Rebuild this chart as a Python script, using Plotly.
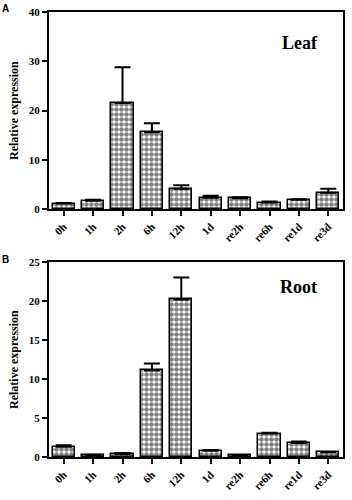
import plotly.graph_objects as go

categories = ["0h", "1h", "2h", "6h", "12h", "1d", "re2h", "re6h", "re1d", "re3d"]
leaf_values = [1.1, 1.7, 21.5, 15.6, 4.1, 2.3, 2.2, 1.3, 1.9, 3.3]
leaf_err_top = [1.2, 1.9, 28.8, 17.4, 4.8, 2.7, 2.4, 1.5, 2.0, 4.1]
root_values = [1.3, 0.25, 0.4, 11.1, 20.2, 0.8, 0.2, 3.0, 1.8, 0.6]
root_err_top = [1.5, 0.3, 0.5, 12.0, 23.0, 0.9, 0.25, 3.1, 2.0, 0.65]
leaf_ticks = [0, 10, 20, 30, 40]
root_ticks = [0, 5, 10, 15, 20, 25]

W, H = 352, 500
serif = "Liberation Serif"

def bar(vals, tops, xa, ya):
    return go.Bar(
        x=categories, y=vals, xaxis=xa, yaxis=ya, width=0.76,
        marker=dict(color="white", line=dict(color="black", width=1.5),
                    pattern=dict(shape=".", fgcolor="black", bgcolor="white",
                                 size=5, solidity=0.65)),
        error_y=dict(type="data", symmetric=False,
                     array=[t - v for t, v in zip(tops, vals)],
                     arrayminus=[0] * len(vals),
                     color="black", thickness=2, width=8),
        showlegend=False,
    )

fig = go.Figure()
fig.add_trace(bar(leaf_values, leaf_err_top, "x", "y"))
fig.add_trace(bar(root_values, root_err_top, "x2", "y2"))

tfont = dict(family=serif, size=11, color="black", weight="bold")
xcommon = dict(showline=True, linecolor="black", linewidth=2, mirror=True,
               ticks="outside", ticklen=5, tickwidth=1.5, tickcolor="black",
               tickangle=-45, tickfont=tfont,
               showgrid=False, zeroline=False, range=[-0.5, 9.5], automargin=False,
               domain=[49 / W, 343 / W])
ycommon = dict(showline=True, linecolor="black", linewidth=2, mirror=True,
               ticks="outside", ticklen=5, tickwidth=1.5, tickcolor="black",
               tickfont=tfont,
               showgrid=False, zeroline=False, automargin=False)

fig.update_layout(
    width=W, height=H, margin=dict(l=0, r=0, t=0, b=0),
    paper_bgcolor="white", plot_bgcolor="white", bargap=0,
    xaxis=dict(xcommon, anchor="y"),
    yaxis=dict(ycommon, range=[0, 40], tickvals=leaf_ticks,
               domain=[1 - 209 / H, 1 - 12 / H], anchor="x"),
    xaxis2=dict(xcommon, anchor="y2"),
    yaxis2=dict(ycommon, range=[0, 25], tickvals=root_ticks,
                domain=[1 - 457 / H, 1 - 262 / H], anchor="x2"),
    font=dict(family=serif, color="black"),
)

def pp(x, y):
    return x / W, 1 - y / H

ann = []
for (x, y, t, fam, size, ang) in [
    (14, 111, "<b>Relative expression</b>", serif, 12, -90),
    (14, 360, "<b>Relative expression</b>", serif, 12, -90),
    (300, 43, "<b>Leaf</b>", serif, 18, 0),
    (298, 287, "<b>Root</b>", serif, 18, 0),
    (5, 8, "<b>A</b>", "Liberation Sans", 10, 0),
    (5, 259, "<b>B</b>", "Liberation Sans", 10, 0),
]:
    px, py = pp(x, y)
    ann.append(dict(x=px, y=py, xref="paper", yref="paper", text=t, showarrow=False,
                    textangle=ang, xanchor="center", yanchor="middle",
                    font=dict(family=fam, size=size, color="black")))
fig.update_layout(annotations=ann)

fig.write_html("out.html")
